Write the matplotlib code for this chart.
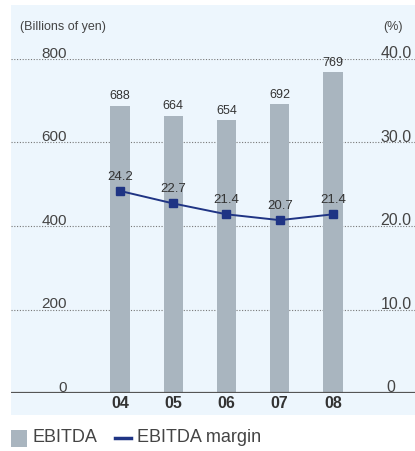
import matplotlib.pyplot as plt
from matplotlib.patches import Rectangle
from matplotlib.lines import Line2D

plt.rcParams['font.family'] = ['Liberation Sans', 'DejaVu Sans']

# EBITDA (billions of yen) and EBITDA margin (%) by fiscal year
years = ['04', '05', '06', '07', '08']
ebitda = [688, 664, 654, 692, 769]
margin = [24.2, 22.7, 21.4, 20.7, 21.4]
left_ticks = [0, 200, 400, 600, 800]
right_ticks = ['0', '10.0', '20.0', '30.0', '40.0']

bg = '#edf6fd'
bar_color = '#a9b5bf'
line_color = '#1f3484'
text_color = '#333333'

W, H = 415, 451
fig = plt.figure(figsize=(W / 100, H / 100), dpi=100)

# light blue panel behind the chart
fig.patches.append(Rectangle((11 / W, 1 - 415 / H), (W - 11) / W, 410 / H,
                             transform=fig.transFigure, facecolor=bg,
                             edgecolor='none', zorder=-5))

ax = fig.add_axes([11 / W, 1 - 393 / H, (W - 11) / W, 334 / H])
ax.set_facecolor('none')
x = list(range(len(years)))
ax.set_xlim(-2.047, 5.54)
ax.set_ylim(0, 800)

for t in left_ticks[1:]:
    ax.axhline(t, color='#777777', lw=0.8, ls=(0, (1, 1.5)), zorder=1)
ax.axhline(0, color='#555555', lw=1.6, zorder=3)

ax.bar(x, ebitda, width=0.357, color=bar_color, zorder=2)
for xi, v in zip(x, ebitda):
    ax.text(xi, v + 8, str(v), ha='center', va='bottom', fontsize=9,
            color=text_color, zorder=4)

for t in left_ticks:
    ax.text(-1.0, t + 12, str(t), ha='right', va='center', fontsize=11,
            color='#444444')
for i, lab in enumerate(right_ticks):
    ax.text(4.89 if i else 5.0, i * 200 + 12, lab, ha='left', va='center',
            fontsize=11.5, color='#444444', clip_on=False)

for xi, yr in zip(x, years):
    ax.text(xi, -24, yr, ha='center', va='center', fontsize=11.5,
            fontweight='bold', color=text_color)

ax2 = ax.twinx()
ax2.set_ylim(0, 40)
ax2.plot(x, margin, color=line_color, lw=1.4, marker='s', ms=5.5, zorder=5)
for xi, v in zip(x, margin):
    ax2.text(xi, v + 1.0, f'{v:.1f}', ha='center', va='bottom', fontsize=9.5,
             color=text_color, zorder=6)

for a in (ax, ax2):
    a.set_xticks([])
    a.set_yticks([])
    for s in a.spines.values():
        s.set_visible(False)

fig.text(20 / W, 1 - 27 / H, '(Billions of yen)', ha='left', va='center',
         fontsize=9, color='#444444')
fig.text(383 / W, 1 - 27 / H, '(%)', ha='left', va='center',
         fontsize=9, color='#444444')

# legend row
fig.patches.append(Rectangle((11 / W, 1 - 447 / H), 16 / W, 17 / H,
                             transform=fig.transFigure, facecolor=bar_color,
                             edgecolor='none'))
fig.text(32 / W, 1 - 438 / H, 'EBITDA', ha='left', va='center', fontsize=13,
         color='#444444')
fig.lines.append(Line2D([115 / W, 131 / W], [1 - 438 / H, 1 - 438 / H],
                        transform=fig.transFigure, color=line_color, lw=2.5))
fig.text(137 / W, 1 - 438 / H, 'EBITDA margin', ha='left', va='center',
         fontsize=13, color='#444444')

fig.savefig('out.png', dpi=100)
